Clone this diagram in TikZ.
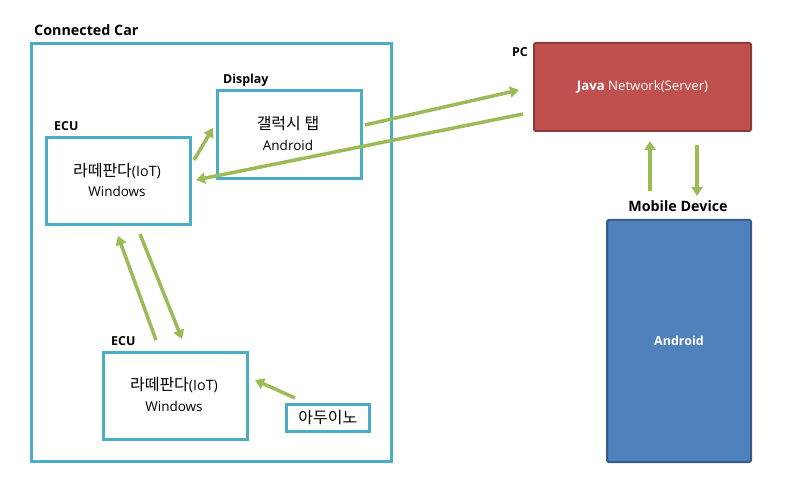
\documentclass[tikz,border=0pt]{standalone}
\usepackage{fontspec}
\setmainfont{Open Sans}
\newfontfamily\kr{Noto Sans CJK KR}
\usetikzlibrary{arrows.meta}
\definecolor{teal1}{HTML}{4BACC6}
\definecolor{grn}{HTML}{9BBB59}
\definecolor{redf}{HTML}{C0504D}
\definecolor{redd}{HTML}{8C3A38}
\definecolor{bluef}{HTML}{4F81BD}
\definecolor{blued}{HTML}{385D8A}
\tikzset{
  box/.style={draw=teal1, line width=2.6pt, fill=white, anchor=north west, inner sep=0pt},
  lbl/.style={font=\bfseries\fontsize{12.4}{14}\selectfont, anchor=base west, inner sep=0pt},
  krt/.style={font=\kr\fontsize{16}{18}\selectfont, inner sep=0pt},
  ent/.style={font=\fontsize{13.5}{15}\selectfont, inner sep=0pt},
  arr/.style={draw=grn, line width=3.5pt, -{Triangle[length=9pt,width=11pt]}},
}
\begin{document}
\begin{tikzpicture}[x=1pt,y=-1pt]
\useasboundingbox (0,0) rectangle (785,486);
% outer car
\node[box, minimum width=360pt, minimum height=418pt] (car) at (30,42) {};
\node[lbl, font=\bfseries\fontsize{14.3}{16}\selectfont] (carl) at (34,36) {Connected Car};
% ECU top
\node[box, minimum width=144pt, minimum height=87pt] (ecu1) at (45,136) {};
\node[krt] (ecu1t) at (117,171) {라떼판다\fontsize{14.3}{16}\selectfont\rmfamily(IoT)};
\node[ent] (ecu1w) at (117,191) {Windows};
\node[lbl] (ecu1l) at (54,131) {ECU};
% Display
\node[box, minimum width=144pt, minimum height=88pt] (disp) at (216,89) {};
\node[krt] (dispt) at (288,124) {갤럭시 탭};
\node[ent] (dispw) at (288,145) {Android};
\node[lbl] (displ) at (223,84) {Display};
% ECU bottom
\node[box, minimum width=144pt, minimum height=87pt] (ecu2) at (102,351) {};
\node[krt] (ecu2t) at (174,385) {라떼판다\fontsize{14.3}{16}\selectfont\rmfamily(IoT)};
\node[ent] (ecu2w) at (174,406) {Windows};
\node[lbl] (ecu2l) at (111,346) {ECU};
% Arduino
\node[box, minimum width=83pt, minimum height=27pt, font=\kr\fontsize{16}{18}\selectfont] (ard) at (285,403) {아두이노};
% PC
\node[draw=redd, fill=redf, line width=2pt, rounded corners=1.5pt, anchor=north west, minimum width=217pt, minimum height=88pt, text=white, font=\fontsize{13.2}{15}\selectfont] (pc) at (533,42) {\textbf{Java} Network(Server)};
\node[lbl] (pcl) at (512,57) {PC};
% Mobile
\node[draw=blued, fill=bluef, line width=2pt, rounded corners=1.5pt, anchor=north west, minimum width=144pt, minimum height=242pt, text=white, font=\bfseries\fontsize{12.5}{14}\selectfont] (mob) at (606,219) {Android};
\node[font=\bfseries\fontsize{14.3}{16}\selectfont, anchor=base, inner sep=0pt] (mobl) at (678,212) {Mobile Device};
% arrow endpoints
\coordinate (a1s) at (194,160); \coordinate (a1e) at (213,128);
\coordinate (a2s) at (365,125); \coordinate (a2e) at (519,90);
\coordinate (a3s) at (523,114); \coordinate (a3e) at (196,180);
\coordinate (a4s) at (156,340); \coordinate (a4e) at (118,236);
\coordinate (a5s) at (140,234); \coordinate (a5e) at (182,339);
\coordinate (a6s) at (295,398); \coordinate (a6e) at (255,380);
\coordinate (a7s) at (650,191); \coordinate (a7e) at (650,141);
\coordinate (a8s) at (697,145); \coordinate (a8e) at (697,196);
\draw[arr] (a1s) -- (a1e);
\draw[arr] (a2s) -- (a2e);
\draw[arr] (a3s) -- (a3e);
\draw[arr] (a4s) -- (a4e);
\draw[arr] (a5s) -- (a5e);
\draw[arr] (a6s) -- (a6e);
\draw[arr] (a7s) -- (a7e);
\draw[arr] (a8s) -- (a8e);
\end{tikzpicture}
\end{document}
